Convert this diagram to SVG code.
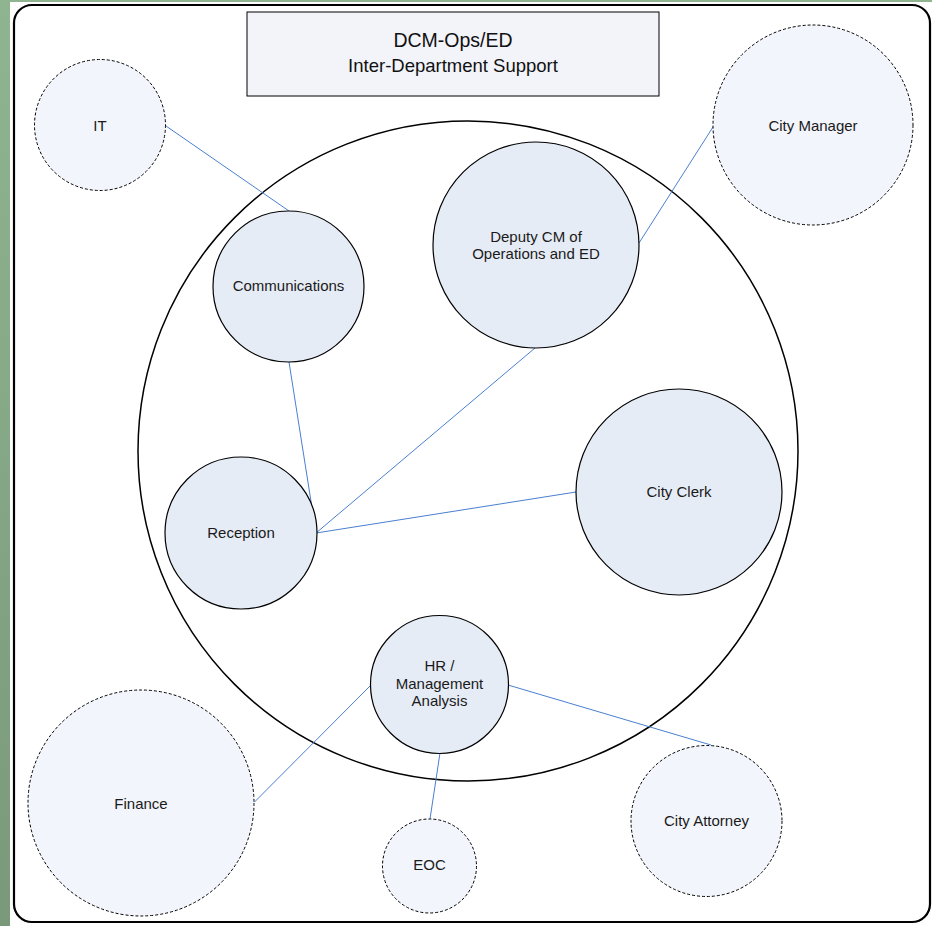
<svg xmlns="http://www.w3.org/2000/svg" width="932" height="926" viewBox="0 0 932 926">
  <defs>
    <linearGradient id="strip" x1="0" y1="0" x2="0" y2="1">
      <stop offset="0" stop-color="#8fb590"/>
      <stop offset="1" stop-color="#7a997a"/>
    </linearGradient>
    <style>
      .lbl { font-family: "Liberation Sans", Arial, sans-serif; font-size: 15px; fill: #1a1a1a; text-anchor: middle; }
      .title { font-family: "Liberation Sans", Arial, sans-serif; fill: #111; text-anchor: middle; }
      .inner { fill: #e6ecf6; stroke: #000; stroke-width: 1.2; }
      .outer { fill: #f2f5fb; stroke: #000; stroke-width: 1; stroke-dasharray: 3 2; }
      .conn line { stroke: #4a7fd0; stroke-width: 1; }
    </style>
  </defs>

  <rect x="0" y="0" width="932" height="926" fill="#fff"/>
  <rect x="0" y="0" width="10" height="926" fill="url(#strip)"/>
  <rect x="0" y="0" width="932" height="2" fill="#8fb590"/>

  <rect x="14" y="5" width="916" height="917" rx="18" ry="18" fill="#fff" stroke="#000" stroke-width="2.2"/>

  <g id="title">
    <rect x="247" y="12" width="412" height="84" fill="#f3f4fa" stroke="#000" stroke-width="1"/>
    <text class="title" x="453" y="47" font-size="19.5">DCM-Ops/ED</text>
    <text class="title" x="453" y="72" font-size="18.5">Inter-Department Support</text>
  </g>

  <g id="boundary">
    <circle cx="468" cy="451" r="330" fill="none" stroke="#000" stroke-width="1.5"/>
  </g>

  <g id="connectors" class="conn">
    <line x1="166" y1="126" x2="289" y2="211"/>
    <line x1="713" y1="127" x2="639" y2="243"/>
    <line x1="289" y1="362" x2="316" y2="533"/>
    <line x1="535" y1="348" x2="316" y2="533"/>
    <line x1="576" y1="492" x2="316" y2="533"/>
    <line x1="370.5" y1="685.5" x2="254.5" y2="802"/>
    <line x1="508" y1="685" x2="711" y2="745"/>
    <line x1="440" y1="753" x2="430" y2="819"/>
  </g>

  <g id="it">
    <circle class="outer" cx="100" cy="125" r="65.5"/>
    <text class="lbl" x="100" y="131">IT</text>
  </g>
  <g id="city-manager">
    <circle class="outer" cx="813" cy="125" r="100"/>
    <text class="lbl" x="813" y="131">City Manager</text>
  </g>
  <g id="communications">
    <circle class="inner" cx="288.5" cy="286.5" r="75.5"/>
    <text class="lbl" x="288.5" y="291">Communications</text>
  </g>
  <g id="deputy-cm">
    <circle class="inner" cx="536" cy="245" r="103"/>
    <text class="lbl" x="536" y="241.5">Deputy CM of</text>
    <text class="lbl" x="536" y="259">Operations and ED</text>
  </g>
  <g id="city-clerk">
    <circle class="inner" cx="679" cy="492" r="103"/>
    <text class="lbl" x="679" y="497">City Clerk</text>
  </g>
  <g id="reception">
    <circle class="inner" cx="241" cy="533" r="76"/>
    <text class="lbl" x="241" y="538">Reception</text>
  </g>
  <g id="hr">
    <circle class="inner" cx="439.5" cy="684.5" r="69"/>
    <text class="lbl" x="439.5" y="670.5">HR /</text>
    <text class="lbl" x="439.5" y="688.5">Management</text>
    <text class="lbl" x="439.5" y="706">Analysis</text>
  </g>
  <g id="finance">
    <circle class="outer" cx="141" cy="803" r="113"/>
    <text class="lbl" x="141" y="809">Finance</text>
  </g>
  <g id="eoc">
    <circle class="outer" cx="429.5" cy="866" r="47"/>
    <text class="lbl" x="429.5" y="870">EOC</text>
  </g>
  <g id="city-attorney">
    <circle class="outer" cx="706.5" cy="821" r="75.5"/>
    <text class="lbl" x="706.5" y="826">City Attorney</text>
  </g>
</svg>
